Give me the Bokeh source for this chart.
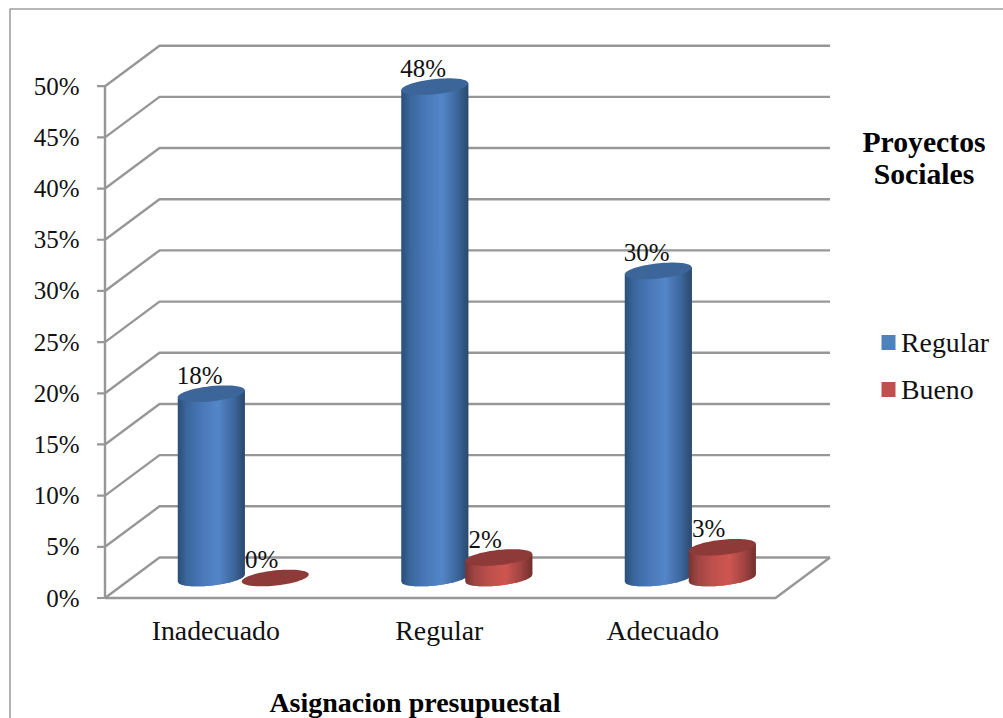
from bokeh.plotting import figure
from bokeh.models import Range1d
from bokeh.core.properties import value
from bokeh.embed import file_html
from bokeh.resources import INLINE
import numpy as np

categories = ["Inadecuado", "Regular", "Adecuado"]
regular = [18, 48, 30]
bueno = [0, 2, 3]
y_ticks = [0, 5, 10, 15, 20, 25, 30, 35, 40, 45, 50]
series_names = ["Regular", "Bueno"]
x_title = "Asignacion presupuestal"
legend_title = ["Proyectos", "Sociales"]

W, H = 1003, 718
X_UNIT = 223.5          # pixels per category
Y_UNIT = 10.236         # pixels per percentage point
AXIS_X = 104.5
ZERO_Y = 597.5
FONT = value("Liberation Serif")
GRID = "#979797"


def px(x):
    return (x - AXIS_X) / X_UNIT


def py(y):
    return (ZERO_Y - y) / Y_UNIT


def w(d):
    return d / X_UNIT


def h(d):
    return d / Y_UNIT


p = figure(width=W, height=H, output_backend="svg", toolbar_location=None,
           x_range=Range1d(px(0), px(W)), y_range=Range1d(py(H), py(0)),
           min_border=0, min_border_left=0, min_border_right=0,
           min_border_top=0, min_border_bottom=0)
p.axis.visible = False
p.grid.visible = False
p.outline_line_color = None
p.background_fill_color = "white"

# Outer chart frame, open towards the page edges
p.line([px(9.5), px(9.5), px(W + 5)], [py(H + 5), py(8.5), py(8.5)],
       line_color="#a0a0a0", line_width=1.6)

# Receding wall and floor grid
DEPTH_X, DEPTH_Y = w(54.5), h(40.5)
SPAN = len(categories)
for t in y_ticks:
    p.line([0, DEPTH_X, SPAN + DEPTH_X], [t, t + DEPTH_Y, t + DEPTH_Y],
           line_color=GRID, line_width=2.4)
    p.line([-w(8), 0], [t, t], line_color=GRID, line_width=2.2)
p.line([0, 0], [0, y_ticks[-1]], line_color=GRID, line_width=2.4)
p.line([0, SPAN, SPAN + DEPTH_X], [0, 0, DEPTH_Y], line_color=GRID, line_width=2.4)

# Cylinder geometry
RX = w(33.5)
TILT = h(3.5)
RY = h(7.6)
BASE = h(20)
BLUE_DX = w(-5.5)
RED_DX = w(58.5)
STOPS = [0.0, 0.12, 0.35, 0.6, 0.82, 1.0]
BLUE_BODY = [(44, 80, 122), (58, 102, 156), (74, 120, 184), (84, 134, 200), (62, 104, 158), (42, 72, 108)]
RED_BODY = [(122, 52, 50), (158, 68, 66), (190, 80, 76), (206, 86, 80), (160, 68, 66), (112, 48, 46)]
BLUE_TOP = "#3c669a"
RED_TOP = "#8e3a38"


def shade(stops, u):
    return "#%02x%02x%02x" % tuple(
        int(round(np.interp(u, STOPS, [c[i] for c in stops]))) for i in range(3))


def cylinder(cx, val, body, top):
    level = val + BASE
    if val > 0:
        edges = np.linspace(-1, 1, 68)
        xs, ys, colors = [], [], []
        for a, b in zip(edges[:-1], edges[1:]):
            b2 = min(b + 0.03, 1.0)
            us = np.linspace(a, b2, 3)
            low = BASE + TILT * us - RY * np.sqrt(np.clip(1 - us**2, 0, 1))
            up = level + TILT * us[::-1]
            xs.append(list(cx + RX * us) + list(cx + RX * us[::-1]))
            ys.append(list(low) + list(up))
            colors.append(shade(body, (a + 1) / 2))
        p.patches(xs, ys, fill_color=colors, line_color=None)
    th = np.linspace(0, 2 * np.pi, 90)
    p.patch(cx + RX * np.cos(th), level + TILT * np.cos(th) + RY * np.sin(th),
            fill_color=top, line_color=None)


for i, (cat, a, b) in enumerate(zip(categories, regular, bueno)):
    centre = i + 0.5
    cylinder(centre + BLUE_DX, a, BLUE_BODY, BLUE_TOP)
    cylinder(centre + RED_DX, b, RED_BODY, RED_TOP)

# Value labels above the cylinder tops
label_x, label_y, label_t = [], [], []
for i, (a, b) in enumerate(zip(regular, bueno)):
    centre = i + 0.5
    label_x += [centre + BLUE_DX - w(11.5), centre + RED_DX - w(13.5)]
    label_y += [a + BASE + h(18.5), b + BASE + h(18.5)]
    label_t += [f"{a}%", f"{b}%"]
p.text(label_x, label_y, text=label_t, text_font=FONT, text_font_size=value("25px"),
       text_color="#111111", text_align="center", text_baseline="middle")

# Axis tick labels
p.text([-w(25.5)] * len(y_ticks), y_ticks, text=[f"{t}%" for t in y_ticks],
       text_font=FONT, text_font_size=value("25px"), text_color="#111111",
       text_align="right", text_baseline="middle")
p.text([i + 0.5 - w(1) for i in range(SPAN)], [py(630)] * SPAN, text=categories,
       text_font=FONT, text_font_size=value("27.8px"), text_color="#111111",
       text_align="center", text_baseline="middle")
p.text([px(414.5)], [py(702)], text=[x_title], text_font=FONT,
       text_font_size=value("28px"), text_font_style="bold", text_color="black",
       text_align="center", text_baseline="middle")

# Legend block
p.text([px(923.5)] * 2, [py(141), py(173)], text=legend_title, text_font=FONT,
       text_font_size=value("29.7px"), text_font_style="bold", text_color="black",
       text_align="center", text_baseline="middle")
p.rect([px(888)] * 2, [py(342), py(389)], width=w(14), height=h(15),
       fill_color=["#4f81bd", "#c0504d"], line_color=None)
p.text([px(900.5)] * 2, [py(342), py(389)], text=series_names, text_font=FONT,
       text_font_size=value("27.8px"), text_color="#111111",
       text_align="left", text_baseline="middle")

open("out.html", "w").write(file_html(p, INLINE))
